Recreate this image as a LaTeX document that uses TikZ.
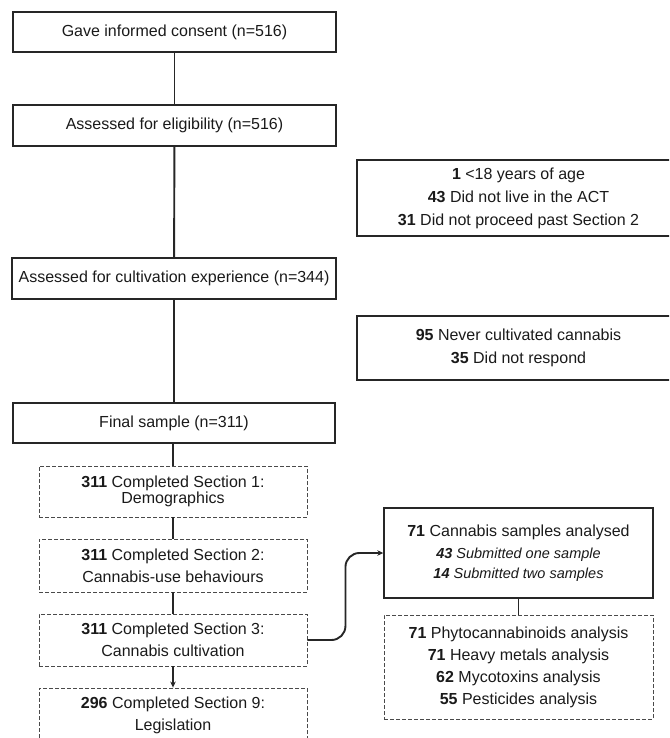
\documentclass[tikz,border=0pt]{standalone}
\usepackage{fontspec}
\setmainfont{Liberation Sans}
\usetikzlibrary{arrows.meta}
\definecolor{textc}{HTML}{1A1A1A}
\definecolor{linec}{HTML}{262626}
\definecolor{dashc}{HTML}{4A4A4A}
\begin{document}
\begin{tikzpicture}[x=1pt,y=-1pt,
  every node/.style={text=textc},
  solidbox/.style={draw=linec, line width=1.4pt, inner sep=0pt, align=center,
    font=\fontsize{16}{22.5}\selectfont},
  dashbox/.style={draw=dashc, line width=0.9pt, dash pattern=on 4pt off 2pt,
    inner sep=0pt, align=center, font=\fontsize{16}{22}\selectfont},
  conn/.style={draw=linec, line width=1.9pt},
  arr/.style={conn, -{Stealth[length=6pt,width=5.5pt]}}
]
\clip (0,0) rectangle (669,738);
% main column
\node[solidbox, minimum width=323pt, minimum height=40pt] (b1) at (174.5,32) {Gave informed consent (n=516)};
\node[solidbox, minimum width=323pt, minimum height=41pt] (b2) at (174.5,125.5) {Assessed for eligibility (n=516)};
\node[solidbox, minimum width=324pt, minimum height=41pt] (b3) at (174,278.5) {Assessed for cultivation experience (n=344)};
\node[solidbox, minimum width=322pt, minimum height=40pt] (b4) at (174,423) {Final sample (n=311)};
% dashed sections
\node[dashbox, minimum width=268pt, minimum height=51pt, font=\fontsize{16}{15.5}\selectfont] (d1) at (173,491.5) {\textbf{311} Completed Section 1:\\ Demographics};
\node[dashbox, minimum width=268pt, minimum height=53pt] (d2) at (173,565.5) {\textbf{311} Completed Section 2:\\ Cannabis-use behaviours};
\node[dashbox, minimum width=268pt, minimum height=52pt] (d3) at (173,640) {\textbf{311} Completed Section 3:\\ Cannabis cultivation};
\node[dashbox, minimum width=268pt, minimum height=54pt] (d4) at (173,715) {\textbf{296} Completed Section 9:\\ Legislation};
% exclusion boxes (extend beyond right edge)
\node[solidbox, minimum width=323pt, minimum height=76pt, font=\fontsize{16}{23}\selectfont] (ex1) at (518.5,198) {\textbf{1} <18 years of age\\ \textbf{43} Did not live in the ACT\\ \textbf{31} Did not proceed past Section 2};
\node[solidbox, minimum width=323pt, minimum height=64pt] (ex2) at (518.5,348) {\textbf{95} Never cultivated cannabis\\ \textbf{35} Did not respond};
% samples
\node[solidbox, minimum width=269pt, minimum height=90pt] (s1) at (518.5,553) {\textbf{71} Cannabis samples analysed\\[-0.5pt]
  {\fontsize{14.5}{20}\selectfont\itshape\textbf{43} Submitted one sample}\\[-2pt]
  {\fontsize{14.5}{20}\selectfont\itshape\textbf{14} Submitted two samples}};
\node[dashbox, minimum width=269pt, minimum height=104pt] (s2) at (518.5,667) {\textbf{71} Phytocannabinoids analysis\\ \textbf{71} Heavy metals analysis\\ \textbf{62} Mycotoxins analysis\\ \textbf{55} Pesticides analysis};
% connectors
\draw[conn] (b1) -- (b2);
\draw[conn] (b2) -- (b3);
\draw[conn] (b3) -- (b4);
\draw[conn] (b4.south -| d1.north) -- (d1);
\draw[conn] (d1) -- (d2);
\draw[conn] (d2) -- (d3);
\draw[arr] (d3) -- (d4);
\draw[conn] (s1) -- (s2);
\draw[arr, rounded corners=14pt] (d3.east) -- ++(38,0) |- (s1.west);
\end{tikzpicture}
\end{document}
